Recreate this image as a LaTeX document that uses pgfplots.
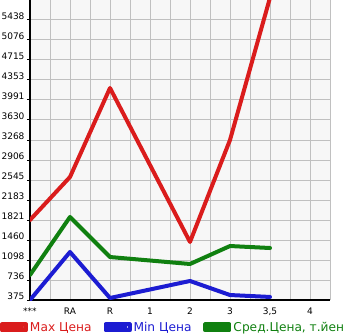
\documentclass[border=0pt]{standalone}
\usepackage{fontspec}
\setmainfont{DejaVu Sans}
\usepackage{pgfplots}
\pgfplotsset{compat=1.18}
\definecolor{cred}{RGB}{218,28,28}
\definecolor{cblue}{RGB}{28,28,210}
\definecolor{cgreen}{RGB}{16,128,16}
\definecolor{bgc}{RGB}{247,247,247}
\definecolor{gridc}{RGB}{192,192,192}
\begin{document}
\begin{tikzpicture}[x=1pt,y=1pt]
\path[use as bounding box] (-30,-35) rectangle (315,300);
\begin{axis}[
  at={(0,0)}, anchor=south west, scale only axis,
  width=300pt, height=300pt,
  xmin=0, xmax=7.5, ymin=375, ymax=5799,
  axis x line*=bottom, axis y line*=left,
  axis line style={line width=1.6pt, black, -},
  axis background/.style={fill=bgc},
  xtick={0,1,2,3,4,5,6,7},
  xticklabels={***,RA,R,1,2,3,{3,5},4},
  minor xtick={0.5,1.5,2.5,3.5,4.5,5.5,6.5,7.5},
  ytick={375,736.6,1098.2,1459.8,1821.4,2183,2544.6,2906.2,3267.8,3629.4,3991,4352.6,4714.2,5075.8,5437.4},
  yticklabels={375,736,1098,1460,1821,2183,2545,2906,3268,3630,3991,4353,4715,5076,5438},
  grid=both,
  major grid style={gridc, line width=1pt},
  minor grid style={gridc, line width=1pt},
  tick align=outside,
  major tick length=3pt, minor tick length=3pt,
  xtick style={draw=none},
  minor x tick style={black, line width=1pt},
  ytick style={black, line width=1pt},
  tick label style={font=\fontsize{9}{11}\selectfont},
  yticklabel style={yshift=3.5pt, xshift=1pt},
  xticklabel style={yshift=-1.5pt},
  /pgf/number format/assume math mode=true,
  legend columns=3,
  legend style={at={(0,0)}, anchor=north west, xshift=-30pt, yshift=-20pt,
    draw=none, fill=none, inner sep=0pt, outer sep=0pt,
    font=\fontsize{12.2}{14}\selectfont,
    /tikz/every even column/.append style={column sep=10pt}},
  legend image code/.code={\path (0pt,-3pt) rectangle (24pt,3pt); \draw[#1, line width=4pt, line cap=round] (2pt,0pt) -- (20pt,0pt);},
  every axis plot/.append style={line width=4pt, line join=round, line cap=round},
]
\addplot[cred] coordinates {(0,1821) (1,2599) (2,4208) (4,1424) (5,3268) (6,5840)};
\addlegendentry{\textcolor{cred}{Max Цена}}
\addplot[cblue] coordinates {(0,375) (1,1243) (2,411) (4,719) (5,465) (6,430)};
\addlegendentry{\textcolor{cblue}{Min Цена}}
\addplot[cgreen] coordinates {(0,827) (1,1876) (2,1152) (4,1026) (5,1351) (6,1315)};
\addlegendentry{\textcolor{cgreen}{Сред.Цена, т.йен}}
\end{axis}
\end{tikzpicture}
\end{document}
